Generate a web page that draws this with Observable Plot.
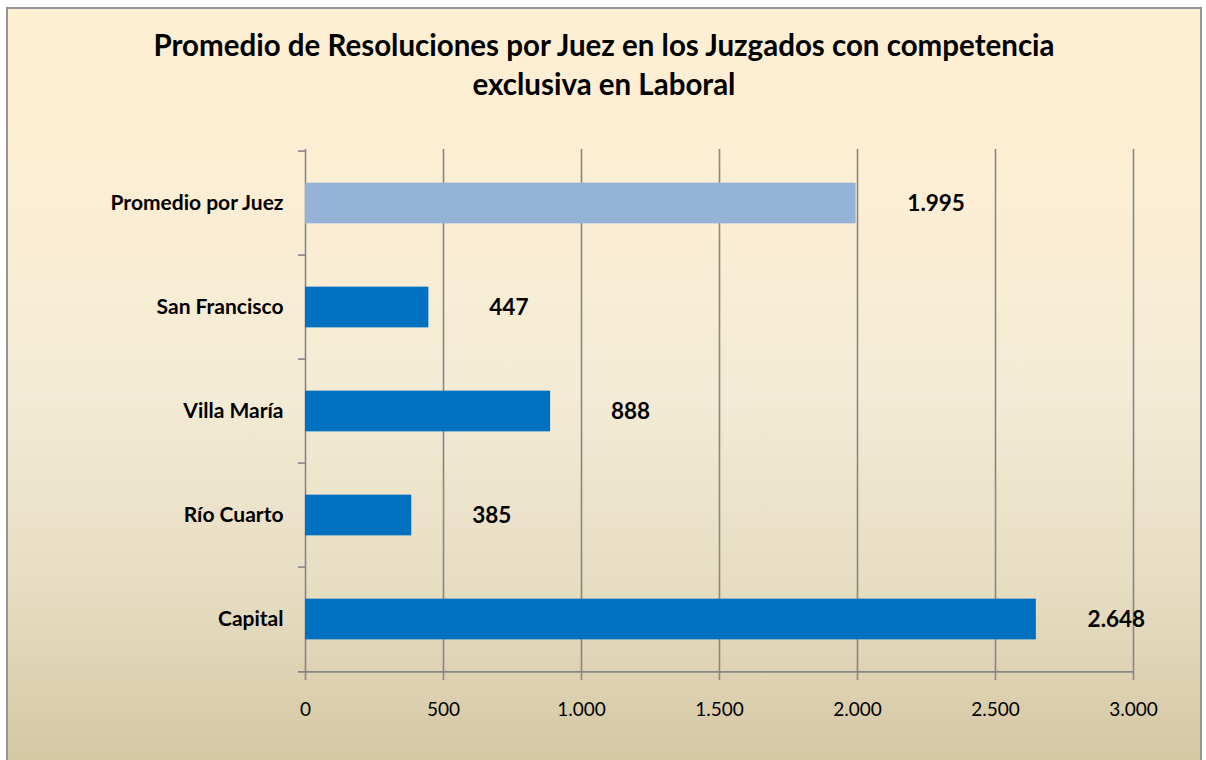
<!DOCTYPE html>
<html>
<head>
<meta charset="utf-8">
<script src="https://cdn.jsdelivr.net/npm/d3@7"></script>
<script src="https://cdn.jsdelivr.net/npm/@observablehq/plot@0.6"></script>
<style>
  html, body { margin: 0; padding: 0; background: #ffffff; width: 1206px; height: 760px; overflow: hidden; }
  #frame {
    position: absolute; left: 6px; top: 7px; width: 1192px; height: 770px;
    border: 2px solid #969696; border-bottom: none;
    background: linear-gradient(to bottom, #FEEFD3 0%, #FCEED4 25%, #F3EBD5 50%, #E6DDC2 75%, #D3C5A1 100%);
    font-family: Lato, "Open Sans", sans-serif;
  }
  #title {
    height: 95px; padding-top: 16px; text-align: center;
    font-weight: bold; font-size: 29.5px; line-height: 39px; color: #000;
  }
  #chart svg { display: block; background: transparent; }
</style>
</head>
<body>
<div id="frame">
  <div id="title">Promedio de Resoluciones por Juez en los Juzgados con competencia<br>exclusiva en Laboral</div>
  <div id="chart"></div>
</div>
<script>
const categories = ["Promedio por Juez", "San Francisco", "Villa María", "Río Cuarto", "Capital"];
const values = [1995, 447, 888, 385, 2648];
const kinds = ["promedio", "juzgado", "juzgado", "juzgado", "juzgado"];
const xTicks = [0, 500, 1000, 1500, 2000, 2500, 3000];

const data = categories.map((c, i) => ({category: c, value: values[i], kind: kinds[i]}));

const locale = d3.formatLocale({decimal: ",", thousands: ".", grouping: [3], currency: ["", ""]});
const fmt = locale.format(",d");

const width = 1190, height = 630;
const marginLeft = 297, marginRight = 65, marginTop = 29, marginBottom = 77;
const bw = (height - marginTop - marginBottom) / categories.length;
const barH = 41.5;
const inset = (bw - barH) / 2;
const gray = "#878787";

const chart = Plot.plot({
  width, height, marginLeft, marginRight, marginTop, marginBottom,
  style: {background: "transparent", fontFamily: "Lato, 'Open Sans', sans-serif", color: "#000"},
  x: {domain: [0, 3000], ticks: xTicks, tickFormat: fmt, label: null},
  y: {domain: categories, padding: 0, label: null},
  color: {domain: ["promedio", "juzgado"], range: ["#95B3D7", "#0070C0"]},
  marks: [
    Plot.ruleX(xTicks, {stroke: gray, strokeWidth: 1.6, strokeOpacity: 1}),
    Plot.barX(data, {x: "value", y: "category", fill: "kind", insetTop: inset, insetBottom: inset}),
    Plot.ruleY(categories, {y: d => d, x1: 0, x2: 0, insetLeft: -7, dy: -bw / 2, stroke: gray, strokeWidth: 1.6}),
    Plot.ruleY([categories[categories.length - 1]], {y: d => d, x1: 0, x2: 3000, insetLeft: -7, dy: bw / 2, stroke: gray, strokeWidth: 1.6}),
    Plot.axisX({ticks: xTicks, tickFormat: fmt, tickSize: 7, tickPadding: 22, stroke: gray, strokeWidth: 1.6, fontSize: 19, label: null}),
    Plot.axisY({tickSize: 0, tickPadding: 22, fontSize: 21, fontWeight: "bold", label: null}),
    Plot.text(data, {x: "value", y: "category", text: d => fmt(d.value), dx: 80, textAnchor: "middle", fontSize: 22.5, fontWeight: "bold", fill: "#000"})
  ]
});
document.getElementById("chart").appendChild(chart);
</script>
</body>
</html>
